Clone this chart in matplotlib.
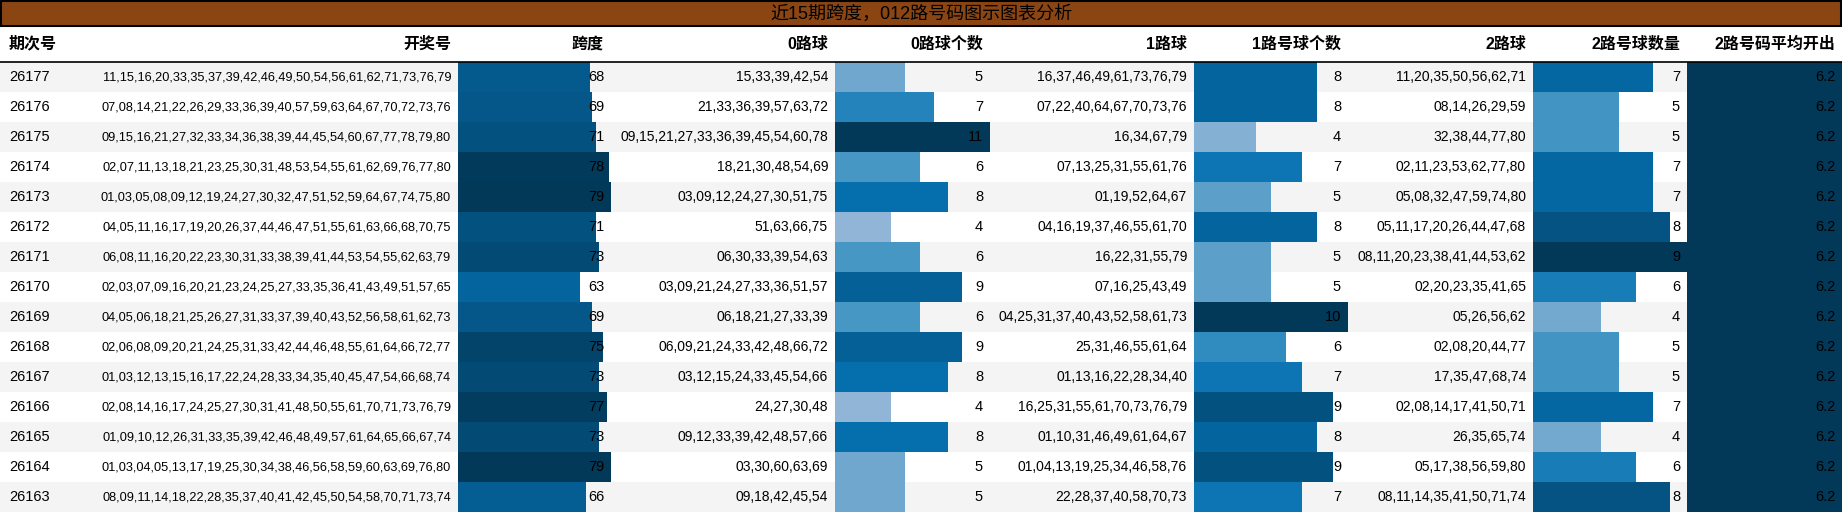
import matplotlib
matplotlib.use("Agg")
import matplotlib.pyplot as plt
from matplotlib.patches import Rectangle

periods = ["26177", "26176", "26175", "26174", "26173", "26172", "26171", "26170",
           "26169", "26168", "26167", "26166", "26165", "26164", "26163"]
draws = [
    "11,15,16,20,33,35,37,39,42,46,49,50,54,56,61,62,71,73,76,79",
    "07,08,14,21,22,26,29,33,36,39,40,57,59,63,64,67,70,72,73,76",
    "09,15,16,21,27,32,33,34,36,38,39,44,45,54,60,67,77,78,79,80",
    "02,07,11,13,18,21,23,25,30,31,48,53,54,55,61,62,69,76,77,80",
    "01,03,05,08,09,12,19,24,27,30,32,47,51,52,59,64,67,74,75,80",
    "04,05,11,16,17,19,20,26,37,44,46,47,51,55,61,63,66,68,70,75",
    "06,08,11,16,20,22,23,30,31,33,38,39,41,44,53,54,55,62,63,79",
    "02,03,07,09,16,20,21,23,24,25,27,33,35,36,41,43,49,51,57,65",
    "04,05,06,18,21,25,26,27,31,33,37,39,40,43,52,56,58,61,62,73",
    "02,06,08,09,20,21,24,25,31,33,42,44,46,48,55,61,64,66,72,77",
    "01,03,12,13,15,16,17,22,24,28,33,34,35,40,45,47,54,66,68,74",
    "02,08,14,16,17,24,25,27,30,31,41,48,50,55,61,70,71,73,76,79",
    "01,09,10,12,26,31,33,35,39,42,46,48,49,57,61,64,65,66,67,74",
    "01,03,04,05,13,17,19,25,30,34,38,46,56,58,59,60,63,69,76,80",
    "08,09,11,14,18,22,28,35,37,40,41,42,45,50,54,58,70,71,73,74",
]
span = [68, 69, 71, 78, 79, 71, 73, 63, 69, 75, 73, 77, 73, 79, 66]
road0 = ["15,33,39,42,54", "21,33,36,39,57,63,72", "09,15,21,27,33,36,39,45,54,60,78",
         "18,21,30,48,54,69", "03,09,12,24,27,30,51,75", "51,63,66,75", "06,30,33,39,54,63",
         "03,09,21,24,27,33,36,51,57", "06,18,21,27,33,39", "06,09,21,24,33,42,48,66,72",
         "03,12,15,24,33,45,54,66", "24,27,30,48", "09,12,33,39,42,48,57,66",
         "03,30,60,63,69", "09,18,42,45,54"]
count0 = [5, 7, 11, 6, 8, 4, 6, 9, 6, 9, 8, 4, 8, 5, 5]
road1 = ["16,37,46,49,61,73,76,79", "07,22,40,64,67,70,73,76", "16,34,67,79",
         "07,13,25,31,55,61,76", "01,19,52,64,67", "04,16,19,37,46,55,61,70",
         "16,22,31,55,79", "07,16,25,43,49", "04,25,31,37,40,43,52,58,61,73",
         "25,31,46,55,61,64", "01,13,16,22,28,34,40", "16,25,31,55,61,70,73,76,79",
         "01,10,31,46,49,61,64,67", "01,04,13,19,25,34,46,58,76", "22,28,37,40,58,70,73"]
count1 = [8, 8, 4, 7, 5, 8, 5, 5, 10, 6, 7, 9, 8, 9, 7]
road2 = ["11,20,35,50,56,62,71", "08,14,26,29,59", "32,38,44,77,80",
         "02,11,23,53,62,77,80", "05,08,32,47,59,74,80", "05,11,17,20,26,44,47,68",
         "08,11,20,23,38,41,44,53,62", "02,20,23,35,41,65", "05,26,56,62",
         "02,08,20,44,77", "17,35,47,68,74", "02,08,14,17,41,50,71", "26,35,65,74",
         "05,17,38,56,59,80", "08,11,14,35,41,50,71,74"]
count2 = [7, 5, 5, 7, 7, 8, 9, 6, 4, 5, 5, 7, 4, 6, 8]
avg2 = [6.2] * 15

headers = ["期次号", "开奖号", "跨度", "0路球", "0路球个数", "1路球", "1路号球个数",
           "2路球", "2路号球数量", "2路号码平均开出"]
title = "近15期跨度，012路号码图示图表分析"

W, H = 1842, 514
plt.rcParams["font.family"] = ["Liberation Sans Narrow", "Liberation Sans",
                               "Noto Sans CJK SC", "DejaVu Sans"]

# column edges (pixels); text is right-aligned in each column except 期次号
edges = [0, 60, 458, 611, 835, 990, 1194, 1348, 1533, 1687, 1842]
cols = [periods, draws, span, road0, count0, road1, count1, road2, count2, avg2]
bar_cols = {2, 4, 6, 8, 9}
sizes = [10.5, 9.2, 10.5, 10, 10.5, 10, 10.5, 10, 10.5, 10.5]
cmap = plt.get_cmap("PuBu")

fig = plt.figure(figsize=(W / 100, H / 100), dpi=100)
ax = fig.add_axes([0, 0, 1, 1])
ax.set_xlim(0, W)
ax.set_ylim(H, 0)
ax.axis("off")

title_h, head_bot, row_h = 26, 62, 30
ax.add_patch(Rectangle((1, 1), W - 2, title_h - 1, facecolor="#8B4513",
                       edgecolor="black", lw=1.5))
ax.text(W / 2, title_h / 2 + 1, title, ha="center", va="center", fontsize=13,
        family=["Liberation Sans", "Noto Sans CJK SC"])

head_y = (title_h + head_bot) / 2
for j, h in enumerate(headers):
    if j == 0:
        ax.text(9, head_y, h, ha="left", va="center", fontsize=11.5, fontweight="bold")
    else:
        ax.text(edges[j + 1] - 7, head_y, h, ha="right", va="center",
                fontsize=11.5, fontweight="bold")
ax.plot([0, W], [head_bot, head_bot], color="black", lw=1.2)

for i in range(len(periods)):
    y0 = head_bot + i * row_h
    if i % 2 == 0:
        ax.add_patch(Rectangle((0, y0), W, row_h, facecolor="#f4f4f4", lw=0))
    yc = y0 + row_h / 2
    for j, col in enumerate(cols):
        v = col[i]
        if j in bar_cols:
            vmax = max(col)
            x0, x1 = edges[j], edges[j + 1]
            frac = v / vmax
            ax.add_patch(Rectangle((x0, y0), (x1 - x0) * frac, row_h,
                                   facecolor=cmap(0.1 + 0.9 * frac), lw=0))
        if j == 0:
            ax.text(30, yc, v, ha="center", va="center", fontsize=sizes[j])
        else:
            ax.text(edges[j + 1] - 7, yc, str(v), ha="right", va="center",
                    fontsize=sizes[j])

fig.savefig("out.png", dpi=100)
